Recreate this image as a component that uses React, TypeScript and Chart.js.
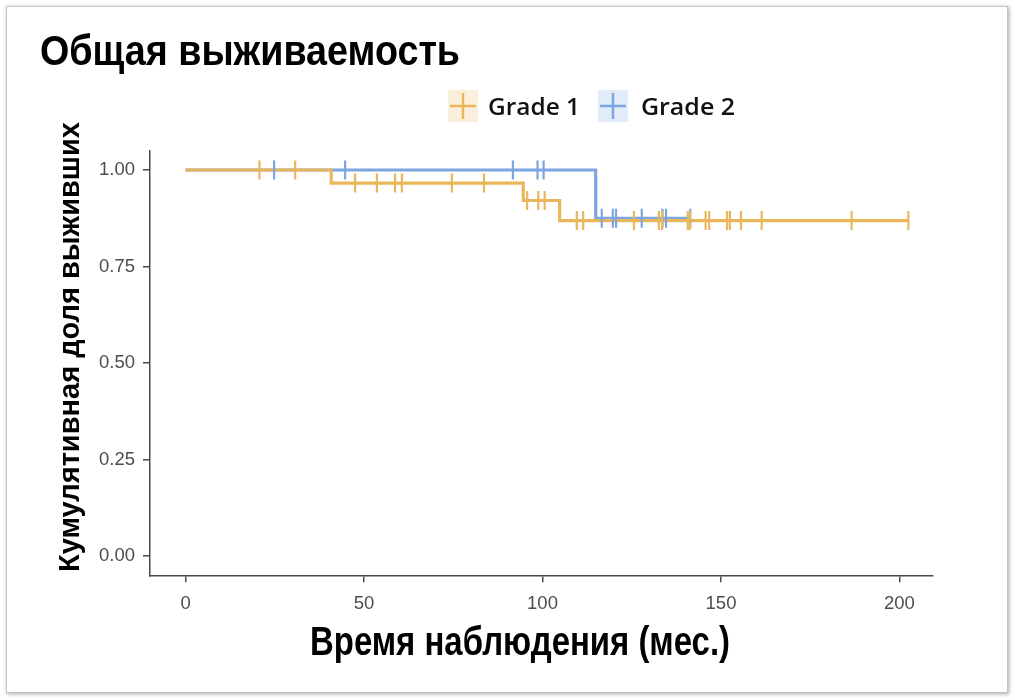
import React, { useEffect, useRef } from "react";
import { Chart, registerables } from "chart.js";

Chart.register(...registerables);

// ---- data ----
const chartTitle = "Общая выживаемость";
const xAxisTitle = "Время наблюдения (мес.)";
const yAxisTitle = "Кумулятивная доля выживших";
const seriesNames = ["Grade 1", "Grade 2"];
const seriesColors = ["#E9B65C", "#7DA5E0"];
const seriesKeyFills = ["rgba(233,182,92,0.22)", "rgba(125,165,224,0.22)"];

const xTickValues = [0, 50, 100, 150, 200];
const yTickValues = [0, 0.25, 0.5, 0.75, 1];

const grade1EventTimes = [40.8, 94.6, 104.8];
const grade1Survival = [0.966, 0.921, 0.869];
const grade1EndTime = 202.5;
const grade1CensorTimes = [
  20.7, 30.7, 47.5, 53.6, 58.7, 60.6, 74.6, 83.6, 95.7, 98.8, 100.6, 109.6,
  111.4, 125.6, 132.6, 133.5, 140.7, 141.3, 145.7, 146.7, 151.7, 152.5, 155.6,
  161.4, 186.6, 202.5,
];

const grade2EventTimes = [114.9];
const grade2Survival = [0.875];
const grade2EndTime = 141.4;
const grade2CensorTimes = [
  24.8, 44.7, 91.7, 98.6, 100.3, 116.6, 119.7, 120.6, 127.8, 133.6, 134.6,
  141.4,
];

// ---- helpers ----
function stepPoints(events: number[], surv: number[], end: number) {
  const pts: { x: number; y: number }[] = [{ x: 0, y: 1 }];
  let s = 1;
  events.forEach((t, i) => {
    pts.push({ x: t, y: s });
    s = surv[i];
    pts.push({ x: t, y: s });
  });
  pts.push({ x: end, y: s });
  return pts;
}

function survAt(t: number, events: number[], surv: number[]) {
  let s = 1;
  events.forEach((e, i) => {
    if (t >= e) s = surv[i];
  });
  return s;
}

function censorPoints(times: number[], events: number[], surv: number[]) {
  return times.map((t) => ({ x: t, y: survAt(t, events, surv) }));
}

function drawFitted(
  ctx: CanvasRenderingContext2D,
  text: string,
  x: number,
  y: number,
  width: number,
  font: string,
  color: string,
  rotate = false
) {
  ctx.save();
  ctx.font = font;
  ctx.fillStyle = color;
  ctx.textAlign = "left";
  ctx.textBaseline = "alphabetic";
  const w = ctx.measureText(text).width;
  ctx.translate(x, y);
  if (rotate) ctx.rotate(-Math.PI / 2);
  ctx.scale(width / w, 1);
  ctx.fillText(text, 0, 0);
  ctx.restore();
}

const decorPlugin = {
  id: "decor",
  afterDraw(chart: any) {
    const ctx: CanvasRenderingContext2D = chart.ctx;
    // title
    drawFitted(ctx, chartTitle, 40, 65, 420, 'bold 42px "Liberation Sans"', "#000");
    // x axis title
    drawFitted(ctx, xAxisTitle, 310, 655, 420, 'bold 40px "Liberation Sans"', "#000");
    // y axis title (rotated)
    drawFitted(ctx, yAxisTitle, 79, 572, 450, 'bold 30px "Liberation Sans"', "#000", true);

    // legend
    const keys = [
      { x: 448, tx: 488, tw: 92 },
      { x: 598, tx: 641, tw: 94 },
    ];
    keys.forEach((k, i) => {
      ctx.save();
      ctx.fillStyle = seriesKeyFills[i];
      ctx.fillRect(k.x, 90, 30, 32);
      ctx.strokeStyle = seriesColors[i];
      ctx.lineWidth = 2.5;
      ctx.beginPath();
      ctx.moveTo(k.x + 2, 106);
      ctx.lineTo(k.x + 28, 106);
      ctx.moveTo(k.x + 15, 93);
      ctx.lineTo(k.x + 15, 119);
      ctx.stroke();
      ctx.restore();
      drawFitted(ctx, seriesNames[i], k.tx, 115, k.tw, '600 23px "Open Sans"', "#111");
    });
  },
};

export default function App() {
  const canvasRef = useRef<HTMLCanvasElement | null>(null);

  useEffect(() => {
    const canvas = canvasRef.current;
    if (!canvas) return;

    const tickFont = { family: '"Liberation Sans"', size: 18.5 };
    const axisColor = "#4a4a4a";

    const chart = new Chart(canvas, {
      type: "scatter",
      data: {
        datasets: [
          {
            label: seriesNames[0] + " censored",
            data: censorPoints(grade1CensorTimes, grade1EventTimes, grade1Survival),
            showLine: false,
            pointStyle: "line",
            pointRotation: 90,
            pointRadius: 9.5,
            pointBorderWidth: 2.2,
            pointBorderColor: seriesColors[0],
            pointBackgroundColor: seriesColors[0],
          },
          {
            label: seriesNames[1] + " censored",
            data: censorPoints(grade2CensorTimes, grade2EventTimes, grade2Survival),
            showLine: false,
            pointStyle: "line",
            pointRotation: 90,
            pointRadius: 9.5,
            pointBorderWidth: 2.2,
            pointBorderColor: seriesColors[1],
            pointBackgroundColor: seriesColors[1],
          },
          {
            label: seriesNames[0],
            data: stepPoints(grade1EventTimes, grade1Survival, grade1EndTime),
            showLine: true,
            borderColor: seriesColors[0],
            borderWidth: 3.2,
            pointRadius: 0,
            fill: false,
            tension: 0,
          },
          {
            label: seriesNames[1],
            data: stepPoints(grade2EventTimes, grade2Survival, grade2EndTime),
            showLine: true,
            borderColor: seriesColors[1],
            borderWidth: 3.2,
            pointRadius: 0,
            fill: false,
            tension: 0,
          },
        ],
      },
      options: {
        animation: false,
        responsive: false,
        events: [],
        layout: { padding: { left: 0, top: 150.7, right: 82, bottom: 74.7 } },
        plugins: {
          legend: { display: false },
          title: { display: false },
          tooltip: { enabled: false },
        },
        scales: {
          x: {
            type: "linear",
            min: -9.97,
            max: 209.4,
            afterBuildTicks: (scale: any) => {
              scale.ticks = xTickValues.map((v) => ({ value: v }));
            },
            afterFit: (scale: any) => {
              scale.height = 50;
            },
            ticks: {
              font: tickFont,
              color: "#4d4d4d",
              padding: 11,
              maxRotation: 0,
              callback: (v: any) => String(v),
            },
            grid: {
              drawOnChartArea: false,
              drawTicks: true,
              tickLength: 7,
              color: axisColor,
              lineWidth: 1.5,
            },
            border: { display: true, color: axisColor, width: 1.5 },
          },
          y: {
            type: "linear",
            min: -0.05,
            max: 1.05,
            afterBuildTicks: (scale: any) => {
              scale.ticks = yTickValues.map((v) => ({ value: v }));
            },
            afterFit: (scale: any) => {
              scale.width = 150;
            },
            ticks: {
              font: tickFont,
              color: "#4d4d4d",
              padding: 8,
              callback: (v: any) => Number(v).toFixed(2),
            },
            grid: {
              drawOnChartArea: false,
              drawTicks: true,
              tickLength: 7,
              color: axisColor,
              lineWidth: 1.5,
            },
            border: { display: true, color: axisColor, width: 1.5 },
          },
        },
      } as any,
      plugins: [decorPlugin],
    });

    return () => chart.destroy();
  }, []);

  return (
    <div
      style={{
        position: "fixed",
        left: 0,
        top: 0,
        width: 1015,
        height: 700,
        background: "#fff",
        overflow: "hidden",
      }}
    >
      <div
        style={{
          position: "absolute",
          left: 6,
          top: 6,
          width: 1000,
          height: 685,
          border: "1px solid #c4c4c4",
          boxShadow: "1px 1px 4px rgba(0,0,0,0.35)",
          background: "#fff",
        }}
      />
      <canvas
        ref={canvasRef}
        width={1015}
        height={700}
        style={{ position: "absolute", left: 0, top: 0, display: "block" }}
      />
    </div>
  );
}
